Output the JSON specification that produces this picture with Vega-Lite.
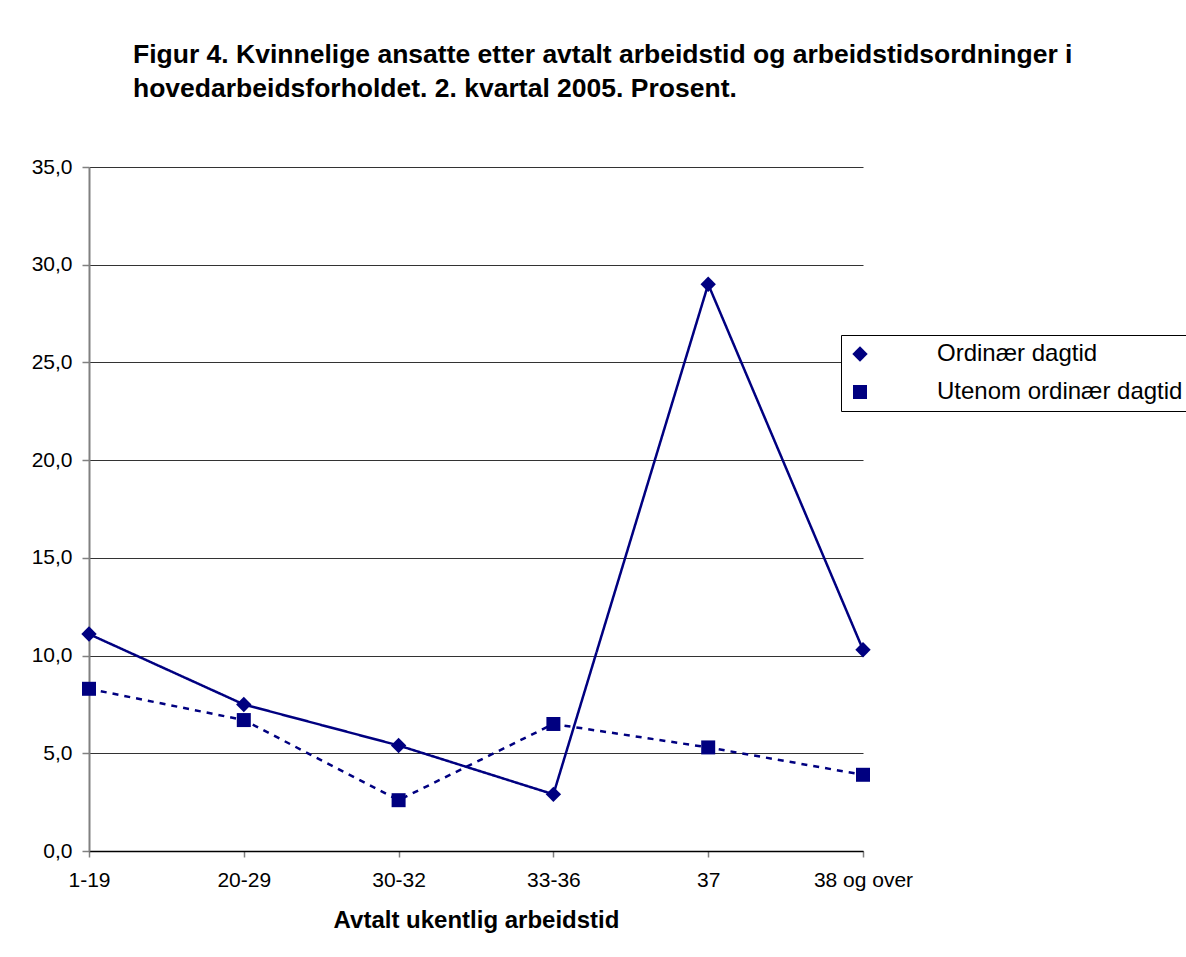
{
  "$schema": "https://vega.github.io/schema/vega-lite/v6.json",
  "autosize": {"type": "none"},
  "padding": {"left": 89, "top": 167, "right": 323, "bottom": 106},
  "width": 774,
  "height": 684,
  "background": "white",
  "title": {
    "text": ["Figur 4. Kvinnelige ansatte etter avtalt arbeidstid og arbeidstidsordninger i", "hovedarbeidsforholdet. 2. kvartal 2005. Prosent."],
    "anchor": "start",
    "frame": "group",
    "dx": 44,
    "offset": 54,
    "font": "Liberation Sans",
    "fontSize": 26.5,
    "fontWeight": "bold",
    "lineHeight": 34,
    "color": "black"
  },
  "config": {
    "view": {"stroke": null},
    "font": "Liberation Sans"
  },
  "data": {
    "values": [
      {"tid": "1-19", "serie": "Ordinær dagtid", "prosent": 11.1},
      {"tid": "20-29", "serie": "Ordinær dagtid", "prosent": 7.5},
      {"tid": "30-32", "serie": "Ordinær dagtid", "prosent": 5.4},
      {"tid": "33-36", "serie": "Ordinær dagtid", "prosent": 2.9},
      {"tid": "37", "serie": "Ordinær dagtid", "prosent": 29.0},
      {"tid": "38 og over", "serie": "Ordinær dagtid", "prosent": 10.3},
      {"tid": "1-19", "serie": "Utenom ordinær dagtid", "prosent": 8.3},
      {"tid": "20-29", "serie": "Utenom ordinær dagtid", "prosent": 6.7},
      {"tid": "30-32", "serie": "Utenom ordinær dagtid", "prosent": 2.6},
      {"tid": "33-36", "serie": "Utenom ordinær dagtid", "prosent": 6.5},
      {"tid": "37", "serie": "Utenom ordinær dagtid", "prosent": 5.3},
      {"tid": "38 og over", "serie": "Utenom ordinær dagtid", "prosent": 3.9}
    ]
  },
  "encoding": {
    "x": {
      "field": "tid",
      "type": "ordinal",
      "sort": ["1-19", "20-29", "30-32", "33-36", "37", "38 og over"],
      "scale": {"type": "point", "padding": 0},
      "axis": {
        "title": "Avtalt ukentlig arbeidstid",
        "titleFont": "Liberation Sans",
        "titleFontSize": 24,
        "titleFontWeight": "bold",
        "titleColor": "black",
        "titlePadding": 18,
        "labelFont": "Liberation Sans",
        "labelFontSize": 21,
        "labelColor": "black",
        "labelAngle": 0,
        "labelPadding": 12,
        "tickSize": 6,
        "tickColor": "#808080",
        "tickWidth": 1.5,
        "domainColor": "black",
        "domainWidth": 1.5,
        "grid": false
      }
    },
    "y": {
      "field": "prosent",
      "type": "quantitative",
      "scale": {"domain": [0, 35], "nice": false, "zero": true},
      "axis": {
        "title": null,
        "values": [0, 5, 10, 15, 20, 25, 30, 35],
        "labelExpr": "replace(format(datum.value, '.1f'), '.', ',')",
        "labelFont": "Liberation Sans",
        "labelFontSize": 21,
        "labelColor": "black",
        "labelPadding": 10,
        "tickSize": 7,
        "tickColor": "#808080",
        "tickWidth": 1.5,
        "domainColor": "#808080",
        "domainWidth": 2,
        "grid": true,
        "gridColor": "#333333",
        "gridWidth": 1
      }
    }
  },
  "layer": [
    {
      "mark": {"type": "line", "strokeWidth": 2.5, "color": "#000080"},
      "encoding": {
        "detail": {"field": "serie", "type": "nominal"},
        "strokeDash": {
          "condition": {"test": "datum.serie == 'Utenom ordinær dagtid'", "value": [6, 6]},
          "value": [1, 0]
        }
      }
    },
    {
      "mark": {"type": "point", "filled": true, "opacity": 1, "size": 196, "color": "#000080"},
      "encoding": {
        "shape": {
          "field": "serie",
          "type": "nominal",
          "scale": {"domain": ["Ordinær dagtid", "Utenom ordinær dagtid"], "range": ["M-1.1,0L0,-1.1L1.1,0L0,1.1Z", "square"]},
          "legend": {
            "title": null,
            "orient": "none",
            "legendX": 752,
            "legendY": 168,
            "padding": 7,
            "strokeColor": "black",
            "fillColor": "white",
            "symbolSize": 196,
            "symbolStrokeWidth": 2,
            "labelFont": "Liberation Sans",
            "labelFontSize": 24,
            "labelColor": "black",
            "labelOffset": 65,
            "labelLimit": 600,
            "rowPadding": 14,
            "encode": {
              "symbols": {
                "shape": {
                  "condition": {"test": "datum.value == 'Ordinær dagtid'", "value": "M-1.571,0L10.143,0M4.286,-1.1L5.386,0L4.286,1.1L3.186,0Z"},
                  "value": "M-1.571,0L10.143,0M3.286,-1L5.286,-1L5.286,1L3.286,1Z"
                },
                "strokeDash": {
                  "condition": {"test": "datum.value == 'Ordinær dagtid'", "value": [1, 0]},
                  "value": [5, 6]
                },
                "stroke": {"value": "#000080"},
                "fill": {"value": "#000080"},
                "strokeWidth": {"value": 2},
                "opacity": {"value": 1}
              }
            }
          }
        }
      }
    }
  ]
}
